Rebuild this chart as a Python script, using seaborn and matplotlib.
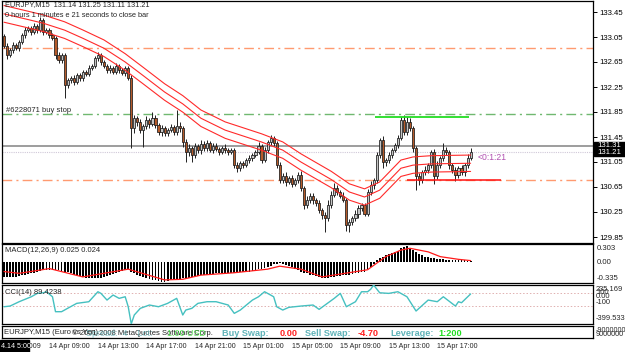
import matplotlib
matplotlib.use("Agg")
import matplotlib.pyplot as plt
import matplotlib.patches as mpatches
import numpy as np
import pandas as pd
import seaborn as sns

# ---------------- data ----------------
first_open = 133.07
closes = [
    132.91, 132.76, 132.84, 132.92, 132.87, 132.97, 133.08, 133.16, 133.19, 133.13,
    133.23, 133.16, 133.32, 133.13, 133.16, 133.08, 133.03, 132.76, 132.68, 132.76,
    132.28, 132.36, 132.39, 132.33, 132.44, 132.39, 132.49, 132.46, 132.55, 132.59,
    132.71, 132.76, 132.65, 132.59, 132.52, 132.55, 132.49, 132.59, 132.52, 132.47,
    132.55, 132.39, 131.59, 131.75, 131.69, 131.56, 131.63, 131.72, 131.66, 131.75,
    131.64, 131.53, 131.59, 131.51, 131.56, 131.61, 131.53, 131.63, 131.59, 131.37,
    131.21, 131.27, 131.16, 131.31, 131.24, 131.34, 131.27, 131.35, 131.24, 131.31,
    131.26, 131.21, 131.27, 131.24, 131.21, 131.24, 131.00, 130.95, 131.03, 131.00,
    131.08, 131.11, 131.16, 131.21, 131.31, 131.08, 131.24, 131.37, 131.43, 131.35,
    131.00, 130.76, 130.83, 130.73, 130.79, 130.70, 130.76, 130.84, 130.63, 130.36,
    130.44, 130.51, 130.44, 130.39, 130.28, 130.20, 130.15, 130.36, 130.52, 130.63,
    130.57, 130.51, 130.44, 130.04, 130.09, 130.15, 130.22, 130.31, 130.36, 130.22,
    130.57, 130.68, 130.76, 131.16, 131.40, 131.05, 131.08, 131.16, 131.24, 131.32,
    131.43, 131.72, 131.53, 131.69, 131.59, 131.27, 130.83, 130.76, 130.89, 130.92,
    131.00, 131.21, 130.83, 131.00, 131.11, 131.24, 131.21, 131.00, 130.92, 130.84,
    130.95, 130.89, 131.00, 131.11, 131.21,
]
# upper / lower shadow lengths in pips (0.01)
wick_up = [
    3, 4, 3, 5, 3, 4, 3, 5, 4, 3,   4, 3, 5, 3, 4, 3, 4, 3, 5, 4,
    3, 4, 3, 5, 3, 4, 3, 4, 5, 3,   4, 5, 3, 4, 3, 5, 3, 4, 3, 4,
    3, 4, 5, 6, 4, 5, 3, 6, 4, 10,  5, 4, 6, 3, 4, 5, 4, 25, 6, 4,
    5, 6, 4, 5, 3, 6, 4, 5, 3, 4,   5, 3, 4, 6, 3, 4, 3, 5, 4, 3,
    4, 5, 3, 4, 6, 3, 5, 4, 5, 4,   3, 5, 4, 6, 3, 5, 4, 5, 6, 3,
    6, 4, 5, 3, 6, 4, 5, 8, 6, 8,   5, 4, 6, 3, 5, 4, 6, 5, 4, 3,
    5, 6, 4, 5, 3, 6, 4, 5, 3, 4,   5, 5, 8, 8, 6, 4, 3, 5, 4, 6,
    4, 3, 5, 6, 4, 11, 5, 4, 3, 5,  4, 5, 3, 6, 6,
]
wick_dn = [
    4, 6, 3, 4, 3, 4, 3, 4, 3, 5,   3, 4, 3, 5, 3, 4, 3, 6, 4, 5,
    21, 5, 4, 5, 3, 4, 5, 3, 4, 3,  3, 4, 5, 3, 4, 5, 3, 4, 5, 3,
    4, 3, 32, 8, 6, 5, 27, 5, 6, 4, 5, 4, 6, 5, 4, 3, 5, 4, 6, 8,
    16, 6, 11, 5, 4, 6, 4, 5, 3, 5, 4, 5, 3, 4, 5, 3, 4, 6, 4, 5,
    3, 4, 5, 3, 4, 5, 3, 4, 5, 4,   4, 5, 4, 6, 3, 5, 4, 5, 4, 6,
    5, 4, 6, 5, 4, 6, 22, 5, 4, 3,  5, 4, 3, 9, 11, 5, 4, 6, 5, 4,
    4, 5, 6, 4, 5, 10, 6, 4, 5, 3,  4, 3, 5, 4, 5, 6, 23, 8, 5, 4,
    5, 4, 14, 6, 5, 4, 5, 6, 4, 10, 5, 4, 6, 4, 3,
]
# moving average of the envelope (middle line), read at bar positions
ma_bar = [0, 7, 13, 20, 26, 33, 40, 46, 53, 59, 65, 73, 85, 92, 98, 108, 114, 119, 124, 131, 135, 141, 154]
ma_val = [133.42, 133.34, 133.27, 133.16, 133.03, 132.87, 132.65, 132.43, 132.17, 131.98, 131.75,
          131.56, 131.37, 131.24, 131.05, 130.77, 130.57, 130.49, 130.60, 130.95, 131.00, 131.02, 131.03]
env_dev = 0.001  # Envelopes deviation 0.1 %

macd_hist = [
    -0.25, -0.25, -0.25, -0.25, -0.25, -0.24, -0.22, -0.21, -0.20, -0.19,
    -0.18, -0.17, -0.15, -0.14, -0.13, -0.13, -0.13, -0.14, -0.14, -0.15,
    -0.16, -0.17, -0.19, -0.21, -0.22, -0.24, -0.25, -0.26, -0.26, -0.27,
    -0.27, -0.27, -0.26, -0.25, -0.23, -0.21, -0.20, -0.19, -0.17, -0.15,
    -0.13, -0.12, -0.16, -0.19, -0.21, -0.23, -0.25, -0.27, -0.29, -0.30,
    -0.31, -0.32, -0.33, -0.33, -0.32, -0.31, -0.30, -0.29, -0.28, -0.27,
    -0.27, -0.26, -0.25, -0.24, -0.23, -0.22, -0.21, -0.21, -0.20, -0.20,
    -0.19, -0.19, -0.19, -0.18, -0.18, -0.18, -0.18, -0.18, -0.17, -0.17,
    -0.17, -0.16, -0.15, -0.14, -0.12, -0.11, -0.10, -0.08, -0.06, -0.04,
    -0.03, -0.02, -0.03, -0.05, -0.07, -0.09, -0.12, -0.14, -0.16, -0.18,
    -0.19, -0.21, -0.22, -0.23, -0.25, -0.26, -0.26, -0.26, -0.25, -0.25,
    -0.24, -0.23, -0.22, -0.22, -0.21, -0.20, -0.19, -0.18, -0.17, -0.16,
    -0.12, -0.08, -0.03, 0.03, 0.07, 0.09, 0.11, 0.13, 0.15, 0.17,
    0.19, 0.23, 0.26, 0.27, 0.24, 0.20, 0.16, 0.13, 0.11, 0.09,
    0.08, 0.07, 0.06, 0.05, 0.05, 0.05, 0.04, 0.04, 0.04, 0.03,
    0.03, 0.03, 0.03, 0.025, 0.025,
]
sig_bar = [0, 5, 15, 26, 41, 53, 59, 65, 76, 87, 91, 98, 105, 120, 126, 131, 134, 140, 144, 150, 154]
sig_val = [-0.16, -0.19, -0.11, -0.25, -0.12, -0.30, -0.29, -0.22, -0.18, -0.12, -0.07, -0.12,
           -0.25, -0.13, 0.09, 0.20, 0.23, 0.17, 0.09, 0.045, 0.024]

cci_bar = [0, 2, 5, 9, 11, 13, 14, 16, 17, 19, 21, 24, 28, 31, 32, 34, 36, 38, 40, 41, 42, 43,
           45, 48, 51, 54, 57, 59, 60, 62, 64, 67, 70, 74, 76, 78, 80, 82, 84, 86, 88, 89, 90,
           92, 94, 98, 102, 104, 109, 111, 113, 116, 118, 120, 121, 122, 124, 127, 130, 133,
           136, 140, 143, 145, 149, 150, 151, 154]
cci_val = [-119, -108, -37, 44, 99, 109, 126, 44, -200, -200, -145, -64, -37, 126, 99, -10, 72,
           18, 44, -119, -399.5, -254, -145, -91, -119, -64, 18, -254, -173, -145, -64, -37, -37,
           -91, -227, -173, -91, -10, 44, 126, 72, 44, -119, -173, -129, -108, -91, -162, 18, 99,
           -119, -37, 126, 126, 165, 235, 109, 99, 126, 44, -189, -10, -37, 44, -108, -37, -54, 89.4]

price_levels = [133.45, 133.05, 132.65, 132.25, 131.85, 131.45, 131.05, 130.65, 130.25, 129.85]
time_bars = [15, 31, 47, 63, 79, 95, 111, 127, 143]
time_labels = ["14 Apr 09:00", "14 Apr 13:00", "14 Apr 17:00", "14 Apr 21:00", "15 Apr 01:00",
               "15 Apr 05:00", "15 Apr 09:00", "15 Apr 13:00", "15 Apr 17:00"]
sell_stop_level = 132.87
buy_stop_level = 131.82
sl_level = 130.76
high_mark = 131.775
ask = 131.31
bid = 131.21

# ---------------- drawing ----------------
sns.set_theme(style="white")
FONT = ["Liberation Sans Narrow", "Liberation Sans", "DejaVu Sans"]
plt.rcParams["font.family"] = FONT
plt.rcParams["patch.force_edgecolor"] = False

W, H = 625, 352
fig = plt.figure(figsize=(W / 100, H / 100), dpi=100)
fig.patch.set_facecolor("white")


def box(l, t, r, b):
    return [l / W, 1 - b / H, (r - l) / W, (b - t) / H]


def fx(x):
    return x / W


def fy(y):
    return 1 - y / H


XL = (-0.66, 194.4)
ax = fig.add_axes(box(2, 1, 593, 243))
axm = fig.add_axes(box(2, 244, 593, 283))
axc = fig.add_axes(box(2, 285, 593, 324))
axi = fig.add_axes(box(2, 326, 593, 338))
for a in (ax, axm, axc, axi):
    a.set_xlim(*XL)
    a.set_facecolor("white")
    for s in a.spines.values():
        s.set_color("black")
        s.set_linewidth(0.9)
    a.set_xticks([])
    a.set_yticks([])

# candles
n = len(closes)
idx = np.arange(n)
opens = [first_open] + closes[:-1]
df = pd.DataFrame({"i": idx, "open": opens, "close": closes,
                   "wu": np.array(wick_up) / 100.0, "wd": np.array(wick_dn) / 100.0})
df["top"] = df[["open", "close"]].max(axis=1)
df["bot"] = df[["open", "close"]].min(axis=1)
df["high"] = df["top"] + df["wu"]
df["low"] = df["bot"] - df["wd"]
bull = df["close"] >= df["open"]
ax.vlines(df["i"], df["low"], df["high"], color="#202020", lw=0.7, zorder=3)
hgt = (df["top"] - df["bot"]).clip(lower=0.012)
ax.bar(df["i"][bull], hgt[bull], bottom=df["bot"][bull], width=0.7,
       facecolor="#c4c4c4", edgecolor="#1a1a1a", linewidth=0.55, zorder=4)
ax.bar(df["i"][~bull], hgt[~bull], bottom=df["bot"][~bull], width=0.7,
       facecolor="#b45a2a", edgecolor="#1a1a1a", linewidth=0.55, zorder=4)

# envelopes
ma = pd.DataFrame({"i": ma_bar, "mid": ma_val})
for k in (-1, 0, 1):
    sns.lineplot(x=ma["i"], y=ma["mid"] * (1 + k * env_dev), ax=ax, color="#ff2a2a",
                 lw=0.8, zorder=5, legend=False)

# horizontal levels
dd = (0, (7, 3, 1.5, 3))
ax.axhline(sell_stop_level, color="#ff9a70", lw=1.0, ls=dd, zorder=2)
ax.axhline(buy_stop_level, color="#70b870", lw=1.0, ls=dd, zorder=2)
ax.axhline(sl_level, color="#ff9a70", lw=1.0, ls=dd, zorder=2)
ax.axhline(ask, color="#8c8c8c", lw=1.2, zorder=2)
ax.axhline(bid, color="#d0c8d8", lw=0.8, ls=(0, (1, 1)), zorder=2)
ax.hlines(high_mark, 122.5, 153.5, color="#22dd22", lw=1.3, zorder=6)
ax.hlines(sl_level, 133, 164, color="#ff1010", lw=1.1, zorder=6)

ax.set_ylim(129.754, 133.626)
ax.set_xlabel("")
ax.set_ylabel("")
ax.yaxis.tick_right()
ax.set_yticks(price_levels)
ax.set_yticklabels([f"{v:.2f}" for v in price_levels])
ax.tick_params(axis="y", which="both", right=True, length=3, width=0.7, pad=1.5,
               labelsize=5.6, colors="black")

fig.text(fx(5), fy(5), "EURJPY,M15  131.14 131.25 131.11 131.21", fontsize=5.3,
         va="center", ha="left", family=FONT)
fig.text(fx(5), fy(15.5), "0 hours 1 minutes e 21 seconds to close bar", fontsize=5.3,
         va="center", ha="left", family=FONT)
fig.text(fx(6), fy(110), "#6228071 buy stop", fontsize=5.5, va="center", ha="left", family=FONT)
fig.text(fx(478), fy(157), "<0:1:21", fontsize=6.2, va="center", ha="left",
         color="#b050b0", family=FONT)

# price boxes
for txt, yt, yb in (("131.31", 142, 149), ("131.21", 149, 156)):
    fig.patches.append(mpatches.Rectangle((fx(594), fy(yb)), fx(31), (yb - yt) / H,
                                          transform=fig.transFigure, color="black", zorder=10))
    fig.text(fx(597), fy((yt + yb) / 2), txt, fontsize=5.6, color="white", va="center",
             ha="left", zorder=11, family=FONT)

# MACD
axm.bar(idx, macd_hist, width=0.6, facecolor="black", edgecolor="none", linewidth=0, zorder=3)
sns.lineplot(x=sig_bar, y=sig_val, ax=axm, color="#ff1a1a", lw=0.9, zorder=4, legend=False)
axm.set_ylim(-0.352, 0.302)
axm.set_yticks([])
axm.set_ylabel("")
fig.text(fx(5), fy(250.5), "MACD(12,26,9) 0.025 0.024", fontsize=5.5, va="center", ha="left",
         family=FONT)
for txt, yy in (("0.303", 248), ("0.00", 262), ("-0.335", 278)):
    fig.text(fx(597), fy(yy), txt, fontsize=5.6, va="center", ha="left", family=FONT)

# CCI
axc.axhline(100, color="#e0b0b0", lw=0.7, ls=(0, (1.5, 2)))
axc.axhline(-100, color="#e0b0b0", lw=0.7, ls=(0, (1.5, 2)))
sns.lineplot(x=cci_bar, y=cci_val, ax=axc, color="#45c0c0", lw=1.0, zorder=4, legend=False)
axc.set_ylim(-401, 236)
axc.set_yticks([])
axc.set_ylabel("")
fig.text(fx(5), fy(292), "CCI(14) 89.4238", fontsize=5.5, va="center", ha="left", family=FONT)
for txt, yy in (("235.169", 289.5), ("100", 292.5), ("0.00", 297), ("-100", 302),
                ("-399.533", 318)):
    fig.text(fx(596), fy(yy), txt, fontsize=5.4, va="center", ha="left", family=FONT)

# info panel
axi.set_ylim(0, 1)
fig.text(fx(4), fy(333), "EURJPY,M15 (Euro vs Yen)", fontsize=5.5, va="center", ha="left",
         family=FONT)
fig.text(fx(72), fy(333), "\u00a9 2001-2008 MetaQuotes Software Corp.", fontsize=5.5,
         va="center", ha="left", family=FONT)
fig.text(fx(86), fy(333), "Spread:  4    Lot:", fontsize=6.4, va="center", ha="left",
         color="#5fb3b8", family=FONT, alpha=0.75)
fig.text(fx(167), fy(333), "1.00 USD", fontsize=6.4, va="center", ha="left",
         color="#22dd22", family=FONT, alpha=0.75)
for txt, xx, col in (("Buy Swap:", 222, "#5fb3b8"), ("0.00", 280, "#ff2020"),
                     ("Sell Swap:", 305, "#5fb3b8"), ("-4.70", 358, "#ff2020"),
                     ("Leverage:", 390, "#5fb3b8"), ("1:200", 438, "#22dd22")):
    fig.text(fx(xx), fy(333), txt, fontsize=6.6, va="center", ha="left", color=col,
             family=FONT, weight="bold")
fig.text(fx(596), fy(330), "-9000000", fontsize=5.2, va="center", ha="left", family=FONT)
fig.text(fx(596), fy(334), "9000000", fontsize=5.2, va="center", ha="left", family=FONT)

# time axis
for b, lab in zip(time_bars, time_labels):
    xp = 4 + (b - XL[0]) / (XL[1] - XL[0]) * 591 - 2
    fig.text(fx(xp), fy(347), lab, fontsize=5.1, va="center", ha="left", family=FONT)
fig.text(fx(2), fy(347), "14 Apr 2009", fontsize=5.1, va="center", ha="left", family=FONT)
fig.patches.append(mpatches.Rectangle((0, fy(352)), fx(29), 12 / H, transform=fig.transFigure,
                                      color="black", zorder=10))
fig.text(fx(1), fy(346.5), "4.14 5:00", fontsize=5.1, color="white", va="center", ha="left",
         zorder=11, family=FONT)

fig.savefig("out.png", dpi=100, facecolor="white")
